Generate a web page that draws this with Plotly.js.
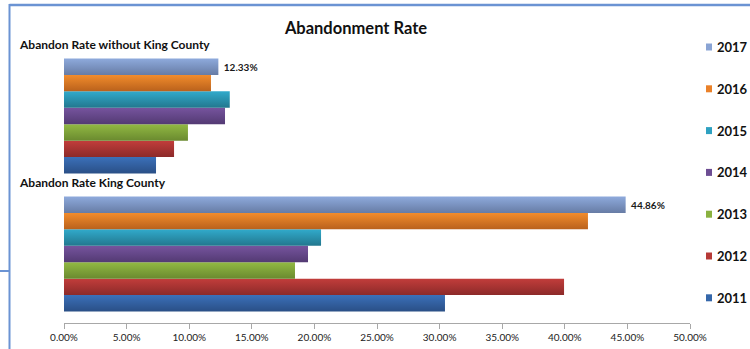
<!DOCTYPE html>
<html>
<head>
<meta charset="utf-8">
<script src="https://cdn.plot.ly/plotly-3.0.1.min.js"></script>
<style>
  html, body { margin: 0; padding: 0; background: #fff; }
  #chart { width: 750px; height: 349px; }
</style>
</head>
<body>
<div id="chart"></div>
<script>
// Abandonment rate by year, King County vs. the rest (percent)
const categories = ['Abandon Rate King County', 'Abandon Rate without King County'];
const years = ['2011', '2012', '2013', '2014', '2015', '2016', '2017'];
const rate2011 = [30.43, 7.35];
const rate2012 = [39.94, 8.79];
const rate2013 = [18.45, 9.90];
const rate2014 = [19.49, 12.86];
const rate2015 = [20.53, 13.24];
const rate2016 = [41.85, 11.74];
const rate2017 = [44.86, 12.33];
const seriesValues = [rate2011, rate2012, rate2013, rate2014, rate2015, rate2016, rate2017];
const xTicks = [0, 5, 10, 15, 20, 25, 30, 35, 40, 45, 50];
const gridTicks = [0, 5, 10, 15, 20, 25, 30, 35, 40, 45];

// bar shading: [top, bottom, legend swatch]
const palette = [
  ['#3b70b9', '#2a4f86', '#3567aa'],
  ['#c23d3b', '#8c2a29', '#b63936'],
  ['#92b943', '#6a8a2f', '#8ab13f'],
  ['#76549e', '#533a73', '#6d4d93'],
  ['#31aacb', '#22778e', '#2ea1c1'],
  ['#f28c2c', '#b9611c', '#ea8129'],
  ['#8eaadc', '#677ca5', '#8aa4d4']
];

const FONT = 'Lato, Carlito, "Open Sans", sans-serif';

// plot area in pixels, used to place decorations in paper units
const W = 750, H = 349;
const M = { l: 64, r: 60, t: 47, b: 26 };
const pw = W - M.l - M.r, ph = H - M.t - M.b;
const px = x => (x - M.l) / pw;
const py = y => (H - M.b - y) / ph;

const traces = years.map((yr, i) => ({
  type: 'bar',
  orientation: 'h',
  name: yr,
  y: categories,
  x: seriesValues[i],
  marker: { color: palette[i][2], line: { width: 0 } },
  text: i === years.length - 1 ? seriesValues[i].map(v => '\u00a0' + v.toFixed(2) + '%') : undefined,
  textposition: i === years.length - 1 ? 'outside' : 'none',
  textfont: { family: FONT, size: 10, color: '#1a1a1a', weight: 'bold' },
  cliponaxis: false,
  hoverinfo: 'x+name'
}));

const shapes = [];
const annotations = [];

// outer frame lines
const frameColor = '#6b93d3';
shapes.push({ type: 'line', xref: 'paper', yref: 'paper', x0: px(9.5), x1: px(760), y0: py(5), y1: py(5), line: { color: frameColor, width: 2.5 } });
shapes.push({ type: 'line', xref: 'paper', yref: 'paper', x0: px(9.5), x1: px(9.5), y0: py(4), y1: py(352), line: { color: frameColor, width: 2 } });
shapes.push({ type: 'line', xref: 'paper', yref: 'paper', x0: px(-2), x1: px(9.5), y0: py(271), y1: py(271), line: { color: frameColor, width: 2 } });

// category captions at the top of each group
categories.forEach(c => {
  annotations.push({
    xref: 'paper', yref: 'y', x: px(17), y: c, yshift: 72,
    xanchor: 'left', yanchor: 'middle', showarrow: false,
    text: '<b>' + c + '</b>',
    font: { family: FONT, size: 12, color: '#111' }
  });
});

// legend, newest year on top
years.slice().reverse().forEach((yr, k) => {
  const i = years.length - 1 - k;
  const cy = 47 + k * 41.8;
  shapes.push({
    type: 'rect', xref: 'paper', yref: 'paper',
    x0: px(706), x1: px(712), y0: py(cy - 3.5), y1: py(cy + 3.5),
    fillcolor: palette[i][2], line: { width: 0 }
  });
  annotations.push({
    xref: 'paper', yref: 'paper', x: px(715), y: py(cy),
    xanchor: 'left', yanchor: 'middle', showarrow: false,
    text: '<b>' + yr + '</b>',
    font: { family: FONT, size: 13, color: '#111' }
  });
});

const layout = {
  width: W, height: H,
  margin: M,
  paper_bgcolor: '#fff', plot_bgcolor: '#fff',
  showlegend: false,
  barmode: 'group',
  bargap: 0.167,
  bargroupgap: 0,
  title: {
    text: '<b>Abandonment Rate</b>',
    font: { family: FONT, size: 16.5, color: '#111' },
    xref: 'paper', x: px(356), xanchor: 'center',
    yref: 'container', y: 1 - 28 / H, yanchor: 'middle'
  },
  xaxis: {
    range: [0, 50],
    tickvals: xTicks,
    ticktext: xTicks.map(v => v.toFixed(2) + '%'),
    showgrid: false,
    showline: true, linecolor: '#a8a8a8', linewidth: 1,
    ticks: 'outside', ticklen: 5, tickcolor: '#a8a8a8',
    zeroline: false,
    tickfont: { family: FONT, size: 10, color: '#222' }
  },
  // vertical gridlines stop at 45% (none on the right edge)
  xaxis2: {
    overlaying: 'x', matches: 'x', anchor: 'y',
    tickvals: gridTicks,
    showgrid: true, gridcolor: '#a8a8a8', gridwidth: 1,
    showticklabels: false, ticks: '', showline: false, zeroline: false
  },
  yaxis: {
    type: 'category',
    categoryorder: 'array', categoryarray: categories,
    range: [-0.5, 1.5], autorange: false,
    showticklabels: false, showgrid: false, showline: false,
    ticks: '', zeroline: false
  },
  shapes: shapes,
  annotations: annotations,
  font: { family: FONT }
};

const gd = document.getElementById('chart');
Plotly.newPlot(gd, traces, layout, { displayModeBar: false, staticPlot: true }).then(() => {
  // vertical shading on each bar, lighter at the top
  const svg = gd.querySelector('.main-svg');
  const ns = 'http://www.w3.org/2000/svg';
  const defs = document.createElementNS(ns, 'defs');
  palette.forEach((p, i) => {
    const g = document.createElementNS(ns, 'linearGradient');
    g.setAttribute('id', 'barshade' + i);
    g.setAttribute('x1', '0'); g.setAttribute('y1', '0');
    g.setAttribute('x2', '0'); g.setAttribute('y2', '1');
    [[0, p[0]], [1, p[1]]].forEach(([o, c]) => {
      const s = document.createElementNS(ns, 'stop');
      s.setAttribute('offset', o);
      s.setAttribute('stop-color', c);
      g.appendChild(s);
    });
    defs.appendChild(g);
  });
  svg.insertBefore(defs, svg.firstChild);
  gd.querySelectorAll('.barlayer .trace').forEach((t, i) => {
    t.querySelectorAll('.point path').forEach(p => { p.style.fill = 'url(#barshade' + i + ')'; });
  });
});
</script>
</body>
</html>
